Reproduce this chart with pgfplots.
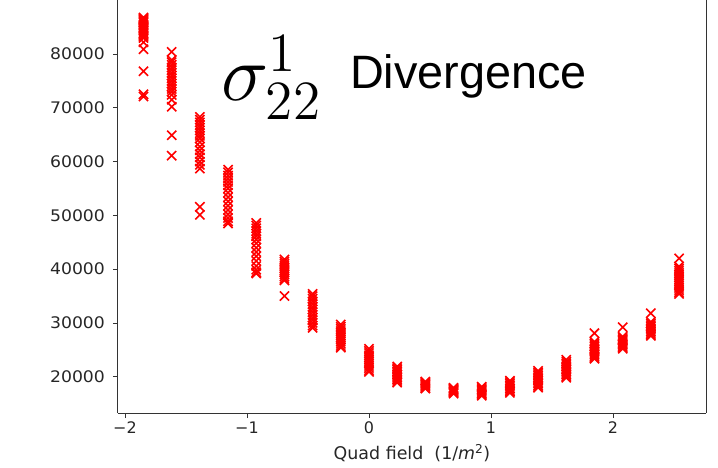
\documentclass[border=0pt]{standalone}
\usepackage{graphicx}
\usepackage{pgfplots}
\pgfplotsset{compat=1.18}
\usepackage{pgfplotstable}
\usepackage{fontspec}
\setmainfont{DejaVu Sans}
\newfontfamily\helv{Liberation Sans}

\pgfplotstableread{
x y
-1.848 86800
-1.848 86600
-1.848 86400
-1.848 86200
-1.848 86000
-1.848 85800
-1.848 85500
-1.848 85200
-1.848 85000
-1.848 84700
-1.848 84400
-1.848 84100
-1.848 83800
-1.848 83500
-1.848 83200
-1.848 83000
-1.848 82200
-1.848 80900
-1.848 76800
-1.848 72500
-1.848 72100
-1.617 80400
-1.617 78900
-1.617 78500
-1.617 78000
-1.617 77500
-1.617 77000
-1.617 76500
-1.617 76000
-1.617 75500
-1.617 75000
-1.617 74500
-1.617 74000
-1.617 73500
-1.617 73000
-1.617 72400
-1.617 71500
-1.617 70200
-1.617 64900
-1.617 61100
-1.386 68300
-1.386 67800
-1.386 67300
-1.386 66800
-1.386 66300
-1.386 65800
-1.386 65300
-1.386 64800
-1.386 64300
-1.386 63600
-1.386 62800
-1.386 62100
-1.386 61400
-1.386 60800
-1.386 60000
-1.386 59400
-1.386 58700
-1.386 51600
-1.386 50100
-1.155 58500
-1.155 58000
-1.155 57400
-1.155 56800
-1.155 56200
-1.155 55600
-1.155 55000
-1.155 54200
-1.155 53400
-1.155 52600
-1.155 51800
-1.155 51000
-1.155 50200
-1.155 49500
-1.155 48900
-1.155 48500
-0.924 48600
-0.924 48100
-0.924 47600
-0.924 47100
-0.924 46600
-0.924 46100
-0.924 45500
-0.924 44800
-0.924 44000
-0.924 43200
-0.924 42400
-0.924 41500
-0.924 40600
-0.924 39900
-0.924 39400
-0.924 39200
-0.693 41800
-0.693 41400
-0.693 41000
-0.693 40600
-0.693 40200
-0.693 39800
-0.693 39400
-0.693 39000
-0.693 38600
-0.693 38200
-0.693 37900
-0.693 35000
-0.462 35400
-0.462 35000
-0.462 34500
-0.462 34000
-0.462 33500
-0.462 33000
-0.462 32500
-0.462 32000
-0.462 31500
-0.462 31000
-0.462 30500
-0.462 30000
-0.462 29500
-0.462 29100
-0.231 29700
-0.231 29300
-0.231 28900
-0.231 28500
-0.231 28100
-0.231 27700
-0.231 27300
-0.231 26900
-0.231 26500
-0.231 26100
-0.231 25700
-0.231 25400
0 25200
0 24800
0 24400
0 24000
0 23600
0 23200
0 22800
0 22400
0 22000
0 21600
0 21200
0 20900
0.231 21900
0.231 21600
0.231 21300
0.231 21000
0.231 20700
0.231 20400
0.231 20100
0.231 19800
0.231 19500
0.231 19200
0.231 18900
0.462 19100
0.462 18900
0.462 18700
0.462 18500
0.462 18300
0.462 18100
0.462 17900
0.462 17800
0.693 17950
0.693 17800
0.693 17650
0.693 17500
0.693 17350
0.693 17200
0.693 17050
0.693 16850
0.924 18150
0.924 17900
0.924 17650
0.924 17400
0.924 17150
0.924 16900
0.924 16650
0.924 16450
1.155 19250
1.155 19000
1.155 18700
1.155 18400
1.155 18100
1.155 17800
1.155 17500
1.155 17250
1.155 17000
1.386 21100
1.386 20800
1.386 20500
1.386 20200
1.386 19900
1.386 19600
1.386 19300
1.386 19000
1.386 18700
1.386 18400
1.386 18100
1.386 17950
1.617 23150
1.617 22800
1.617 22500
1.617 22200
1.617 21900
1.617 21600
1.617 21300
1.617 21000
1.617 20700
1.617 20400
1.617 20100
1.617 19800
1.848 28100
1.848 26500
1.848 26200
1.848 25900
1.848 25600
1.848 25300
1.848 25000
1.848 24700
1.848 24400
1.848 24100
1.848 23800
1.848 23500
1.848 23350
2.079 29200
2.079 27450
2.079 27200
2.079 26950
2.079 26700
2.079 26450
2.079 26200
2.079 25950
2.079 25700
2.079 25450
2.079 25200
2.310 31800
2.310 30200
2.310 29900
2.310 29600
2.310 29300
2.310 29000
2.310 28700
2.310 28400
2.310 28100
2.310 27800
2.310 27600
2.541 42000
2.541 40500
2.541 40100
2.541 39700
2.541 39300
2.541 38900
2.541 38500
2.541 38100
2.541 37700
2.541 37300
2.541 36900
2.541 36500
2.541 36100
2.541 35700
2.541 35400
}\divdata

\begin{document}
\begin{tikzpicture}
\begin{axis}[
  scale only axis,
  width=588bp, height=413bp,
  xmin=-2.057, xmax=2.762,
  ymin=13250, ymax=90050,
  axis x line*=bottom, axis y line*=box,
  ytick pos=left,
  axis line style={black!80, line width=1bp},
  tick align=outside,
  major tick length=5bp,
  tick style={black!80, line width=0.8bp},
  xtick={-2,-1,0,1,2},
  xticklabels={−2,−1,0,1,2},
  ytick={20000,30000,40000,50000,60000,70000,80000},
  yticklabels={20000,30000,40000,50000,60000,70000,80000},
  scaled y ticks=false,
  tick label style={font=\fontsize{16}{16}\selectfont, text=black!85},
  yticklabel style={xscale=1.08, xshift=-4bp},
  xlabel={Quad field\ \ (1/{\itshape m}\textsuperscript{2})},
  xlabel style={font=\fontsize{17.5}{17.5}\selectfont, text=black!85, yshift=-4bp},
]
\coordinate (O) at (rel axis cs:0,0);
\addplot[only marks, mark=x, color=red, mark size=6.5pt, line width=1.6pt] table[x=x, y=y] {\divdata};
\node[anchor=base west, inner sep=0pt] at (axis cs:-1.21,71440) {\scalebox{3.86}{\fontsize{20}{20}\selectfont$\sigma^1_{22}$}};
\node[anchor=base west, inner sep=0pt] at (axis cs:-0.156,73680) {\helv\fontsize{47}{47}\selectfont Divergence};
\end{axis}
\pgfresetboundingbox
\useasboundingbox (O) ++(-118bp,-55bp) rectangle ++(718bp,468bp);
\end{tikzpicture}
\end{document}
